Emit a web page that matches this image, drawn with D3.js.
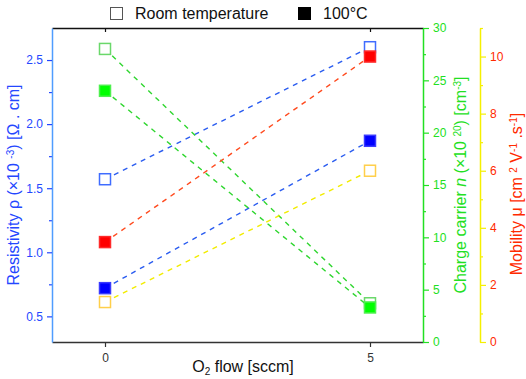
<!DOCTYPE html>
<html>
<head>
<meta charset="utf-8">
<script src="https://cdn.jsdelivr.net/npm/d3@7"></script>
<style>
  html, body { margin: 0; padding: 0; background: #fff; }
  svg { display: block; font-family: "Liberation Sans", Arial, sans-serif; }
</style>
</head>
<body>
<div id="chart"></div>
<script>
// Data
const o2Flow = [0, 5];
const resistivityRT = [1.57, 2.60];
const resistivity100 = [0.72, 1.87];
const carrierRT = [28.0, 3.7];
const carrier100 = [24.0, 3.3];
const mobilityRT = [1.40, 6.0];
const mobility100 = [3.5, 10.0];

const xTicks = [0, 5];
const rhoTicks = [0.5, 1.0, 1.5, 2.0, 2.5];
const rhoMinor = [0.75, 1.25, 1.75, 2.25];
const nTicks = [0, 5, 10, 15, 20, 25, 30];
const nMinor = [2.5, 7.5, 12.5, 17.5, 22.5, 27.5];
const muTicks = [0, 2, 4, 6, 8, 10];
const muMinor = [1, 3, 5, 7, 9, 11];

const legendLabels = ['Room temperature', '100°C'];

const W = 526, H = 379;
const PLOT = { left: 52, right: 423, top: 28, bottom: 342 };
const MU_AXIS_X = 480;
const MARKER = 11;

const BLUE_TEXT = '#2447ff';
const BLUE_LINE = '#4f9dff';
const GREEN = '#22e022';
const YELLOW = '#f5f000';
const RED_TEXT = '#ff2a00';

const svg = d3.select('#chart')
  .append('svg')
  .attr('width', W)
  .attr('height', H)
  .attr('viewBox', `0 0 ${W} ${H}`);

const xScale = d3.scaleLinear().domain([-1, 6]).range([PLOT.left, PLOT.right]);
const rhoScale = d3.scaleLinear().domain([0.3, 2.75]).range([PLOT.bottom, PLOT.top]);
const nScale = d3.scaleLinear().domain([0, 30]).range([PLOT.bottom, PLOT.top]);
const muScale = d3.scaleLinear().domain([0, 11]).range([PLOT.bottom, PLOT.top]);

function styleAxis(g, color, lineColor, fontSize) {
  g.select('.domain').attr('stroke', lineColor || color).attr('stroke-width', 1.5);
  g.selectAll('.tick line').attr('stroke', color).attr('stroke-width', 1.2);
  g.selectAll('.tick text').attr('fill', color).attr('font-size', fontSize || 12)
    .attr('font-family', '"Liberation Sans", Arial, sans-serif');
}

// Bottom x axis
const xAxisG = svg.append('g')
  .attr('transform', `translate(0, ${PLOT.bottom})`)
  .call(d3.axisBottom(xScale).tickValues(xTicks).tickSize(5).tickPadding(6).tickSizeOuter(0).tickFormat(d3.format('d')));
styleAxis(xAxisG, '#333');

// Top frame with inward ticks
const xTopG = svg.append('g')
  .attr('transform', `translate(0, ${PLOT.top})`)
  .call(d3.axisTop(xScale).tickValues(xTicks).tickSize(-4).tickSizeOuter(0).tickFormat(''));
styleAxis(xTopG, '#111');

// Left axis: resistivity
svg.append('g')
  .attr('transform', `translate(${PLOT.left}, 0)`)
  .call(d3.axisLeft(rhoScale).tickValues(rhoMinor).tickSize(3).tickSizeOuter(0).tickFormat(''))
  .call(g => g.select('.domain').remove())
  .selectAll('.tick line').attr('stroke', BLUE_TEXT).attr('stroke-width', 1.2);
const rhoG = svg.append('g')
  .attr('transform', `translate(${PLOT.left}, 0)`)
  .call(d3.axisLeft(rhoScale).tickValues(rhoTicks).tickSize(5).tickPadding(4).tickSizeOuter(0).tickFormat(d3.format('.1f')));
styleAxis(rhoG, BLUE_TEXT, BLUE_LINE);

// Right axis: carrier density
svg.append('g')
  .attr('transform', `translate(${PLOT.right}, 0)`)
  .call(d3.axisRight(nScale).tickValues(nMinor).tickSize(3).tickSizeOuter(0).tickFormat(''))
  .call(g => g.select('.domain').remove())
  .selectAll('.tick line').attr('stroke', GREEN).attr('stroke-width', 1.2);
const nG = svg.append('g')
  .attr('transform', `translate(${PLOT.right}, 0)`)
  .call(d3.axisRight(nScale).tickValues(nTicks).tickSize(6).tickPadding(4).tickSizeOuter(0).tickFormat(d3.format('d')));
styleAxis(nG, GREEN);

// Offset right axis: mobility
svg.append('g')
  .attr('transform', `translate(${MU_AXIS_X}, 0)`)
  .call(d3.axisRight(muScale).tickValues(muMinor).tickSize(3).tickSizeOuter(0).tickFormat(''))
  .call(g => g.select('.domain').remove())
  .selectAll('.tick line').attr('stroke', YELLOW).attr('stroke-width', 1.2);
const muG = svg.append('g')
  .attr('transform', `translate(${MU_AXIS_X}, 0)`)
  .call(d3.axisRight(muScale).tickValues(muTicks).tickSize(6).tickPadding(4).tickSizeOuter(0).tickFormat(d3.format('d')));
styleAxis(muG, YELLOW);
muG.selectAll('.tick text').attr('fill', RED_TEXT);

// Series
const series = [
  { values: resistivityRT, scale: rhoScale, line: '#2a5cf0', fill: '#fff', stroke: '#3f6cff' },
  { values: resistivity100, scale: rhoScale, line: '#2a5cf0', fill: '#0000ff', stroke: '#3a3aff' },
  { values: carrierRT, scale: nScale, line: '#2fd62f', fill: '#fff', stroke: '#6ad86a' },
  { values: carrier100, scale: nScale, line: '#2fd62f', fill: '#00ff00', stroke: '#4ef04e' },
  { values: mobilityRT, scale: muScale, line: '#f2ec00', fill: '#fff', stroke: '#ffcf4a' },
  { values: mobility100, scale: muScale, line: '#ff4a1e', fill: '#ff0000', stroke: '#ff2a2a' },
];

const lineGen = s => d3.line()
  .x((d, i) => xScale(o2Flow[i]))
  .y(d => s.scale(d));

svg.append('g').selectAll('path')
  .data(series)
  .enter()
  .append('path')
  .attr('fill', 'none')
  .attr('stroke', s => s.line)
  .attr('stroke-width', 1.4)
  .attr('stroke-dasharray', '5,5')
  .attr('d', s => lineGen(s)(s.values));

const markerGroups = svg.append('g').selectAll('g')
  .data(series)
  .enter()
  .append('g');

markerGroups.selectAll('rect')
  .data(s => s.values.map((v, i) => ({ x: o2Flow[i], y: s.scale(v), s })))
  .enter()
  .append('rect')
  .attr('x', d => xScale(d.x) - MARKER / 2)
  .attr('y', d => d.y - MARKER / 2)
  .attr('width', MARKER)
  .attr('height', MARKER)
  .attr('fill', d => d.s.fill)
  .attr('stroke', d => d.s.stroke)
  .attr('stroke-width', 1.5);

// Axis titles
function title(x, y, rotate, color, parts) {
  const t = svg.append('text')
    .attr('transform', `translate(${x}, ${y}) rotate(${rotate})`)
    .attr('text-anchor', 'middle')
    .attr('font-size', 16)
    .attr('fill', color);
  parts.forEach(p => {
    const ts = t.append('tspan').text(p.t);
    if (p.sup) ts.attr('font-size', 10).attr('baseline-shift', '55%');
    if (p.sub) ts.attr('font-size', 10).attr('baseline-shift', '-30%');
    if (p.it) ts.attr('font-style', 'italic');
  });
}

title(19, 185, -90, BLUE_TEXT, [
  { t: 'Resistivity ρ (×10 ' }, { t: '-3', sup: true }, { t: ') [Ω . cm]' },
]);
title(466, 185, -90, GREEN, [
  { t: 'Charge carrier ' }, { t: 'n', it: true }, { t: ' (×10 ' }, { t: '20', sup: true },
  { t: ') [cm' }, { t: '-3', sup: true }, { t: ']' },
]);
title(522, 194, -90, RED_TEXT, [
  { t: 'Mobility μ [cm ' }, { t: '2', sup: true }, { t: ' V' }, { t: '-1', sup: true },
  { t: ' .s' }, { t: '-1', sup: true }, { t: ']' },
]);
title(243, 372, 0, '#111', [
  { t: 'O' }, { t: '2', sub: true }, { t: ' flow [sccm]' },
]);

// Legend
const legend = svg.append('g');
const legendItems = [
  { label: legendLabels[0], x: 110, fill: '#fff', stroke: '#555' },
  { label: legendLabels[1], x: 298, fill: '#000', stroke: '#000' },
];
legendItems.forEach(it => {
  legend.append('rect')
    .attr('x', it.x + 0.5)
    .attr('y', 7.5)
    .attr('width', 12)
    .attr('height', 12)
    .attr('fill', it.fill)
    .attr('stroke', it.stroke)
    .attr('stroke-width', 1);
  legend.append('text')
    .attr('x', it.x + 25)
    .attr('y', 19)
    .attr('font-size', 16)
    .attr('fill', '#111')
    .text(it.label);
});
</script>
</body>
</html>
